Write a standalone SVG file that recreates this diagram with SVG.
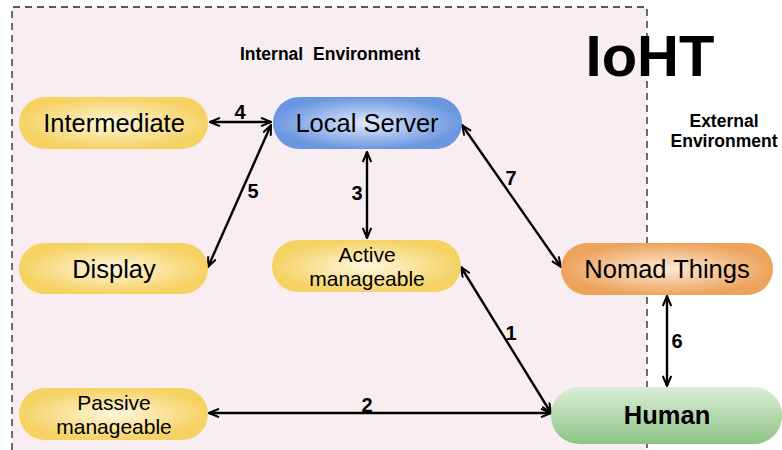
<svg xmlns="http://www.w3.org/2000/svg" width="782" height="450" viewBox="0 0 782 450">
  <style>
    .lbl { font-family: "Liberation Sans", Arial, sans-serif; fill: #000; text-anchor: middle; }
    .node { font-size: 25.5px; }
    .small { font-size: 21px; }
    .num { font-size: 20px; font-weight: bold; }
    .head { font-size: 17.5px; font-weight: bold; }
    .edge { stroke: #000; stroke-width: 2.4; fill: none; marker-start: url(#arr); marker-end: url(#arr); }
    .frame { stroke: #222; stroke-width: 1.3; stroke-dasharray: 7 5; fill: none; }
  </style>
  <defs>
    <radialGradient id="gYellow" cx="0.5" cy="0.5" r="0.5">
      <stop offset="0" stop-color="#fdf6dc"/>
      <stop offset="1" stop-color="#f6d263"/>
    </radialGradient>
    <radialGradient id="gBlue" cx="0.5" cy="0.5" r="0.5">
      <stop offset="0" stop-color="#e2eafb"/>
      <stop offset="1" stop-color="#6b97e1"/>
    </radialGradient>
    <radialGradient id="gOrange" cx="0.5" cy="0.5" r="0.5">
      <stop offset="0" stop-color="#fcead8"/>
      <stop offset="1" stop-color="#eda35c"/>
    </radialGradient>
    <linearGradient id="gGreen" x1="0" y1="0" x2="0" y2="1">
      <stop offset="0" stop-color="#dbeed6"/>
      <stop offset="1" stop-color="#8dc385"/>
    </linearGradient>
    <marker id="arr" viewBox="0 0 12 10" refX="11" refY="5" markerWidth="12" markerHeight="10" markerUnits="userSpaceOnUse" orient="auto-start-reverse">
      <path d="M1,0.8 L11,5 L1,9.2" fill="none" stroke="#000" stroke-width="2"/>
    </marker>
  </defs>

  <!-- internal environment area -->
  <rect x="12" y="7" width="635" height="450" fill="#f8eef2"/>
  <path class="frame" d="M12,450 V7 H647 V450"/>

  <text class="lbl head" x="330" y="60" word-spacing="5">Internal Environment</text>
  <text class="lbl" x="650" y="76" font-size="58" font-weight="bold">IoHT</text>
  <text class="lbl head" x="724" y="127">External</text>
  <text class="lbl head" x="724" y="147">Environment</text>

  <!-- connectors -->
  <g id="connectors">
    <line class="edge" x1="210" y1="122" x2="271" y2="122"/>
    <line class="edge" x1="271" y1="125" x2="208" y2="267"/>
    <line class="edge" x1="367" y1="152" x2="367" y2="238"/>
    <line class="edge" x1="462" y1="125" x2="561" y2="267"/>
    <line class="edge" x1="461" y1="267" x2="551" y2="413"/>
    <line class="edge" x1="209" y1="413" x2="551" y2="413"/>
    <line class="edge" x1="667" y1="296" x2="667" y2="386"/>
    <text class="lbl num" x="240" y="119">4</text>
    <text class="lbl num" x="253" y="198">5</text>
    <text class="lbl num" x="357" y="200">3</text>
    <text class="lbl num" x="511" y="185">7</text>
    <text class="lbl num" x="511" y="340">1</text>
    <text class="lbl num" x="367" y="412">2</text>
    <text class="lbl num" x="677" y="348">6</text>
  </g>

  <!-- nodes -->
  <g id="intermediate">
    <rect x="19" y="97" width="189" height="52" rx="26" fill="url(#gYellow)"/>
    <text class="lbl node" x="114" y="132">Intermediate</text>
  </g>
  <g id="local-server">
    <rect x="273" y="97" width="189" height="52" rx="26" fill="url(#gBlue)"/>
    <text class="lbl node" x="367" y="132">Local Server</text>
  </g>
  <g id="display">
    <rect x="19" y="243" width="189" height="51" rx="25.5" fill="url(#gYellow)"/>
    <text class="lbl node" x="114" y="278">Display</text>
  </g>
  <g id="active-manageable">
    <rect x="272" y="240" width="189" height="52" rx="26" fill="url(#gYellow)"/>
    <text class="lbl small" x="367" y="262">Active</text>
    <text class="lbl small" x="367" y="286">manageable</text>
  </g>
  <g id="passive-manageable">
    <rect x="19" y="388" width="189" height="52" rx="26" fill="url(#gYellow)"/>
    <text class="lbl small" x="114" y="410">Passive</text>
    <text class="lbl small" x="114" y="434">manageable</text>
  </g>
  <g id="nomad-things">
    <rect x="561" y="243" width="212" height="52" rx="26" fill="url(#gOrange)"/>
    <text class="lbl node" x="667" y="278">Nomad Things</text>
  </g>
  <g id="human">
    <rect x="551" y="387" width="231" height="57" rx="28" fill="url(#gGreen)"/>
    <text class="lbl node" x="667" y="424" font-weight="bold">Human</text>
  </g>
</svg>
